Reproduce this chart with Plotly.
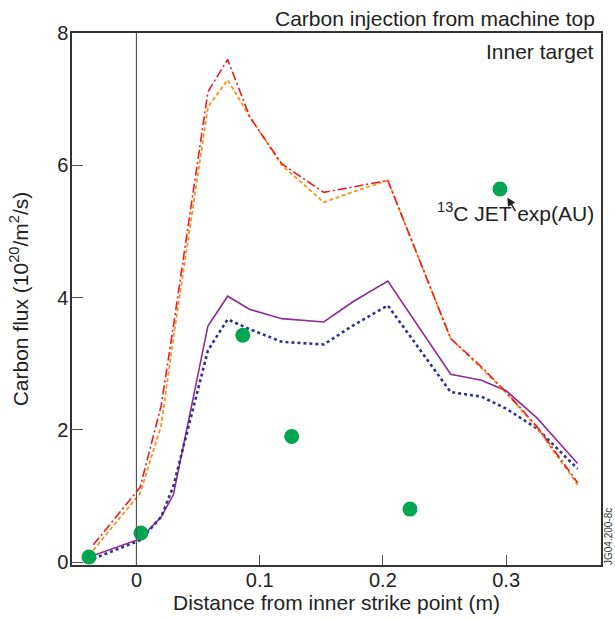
import plotly.graph_objects as go

# Simulation grid (distance from inner strike point, m)
x_sim = [-0.035, 0.003, 0.020, 0.030, 0.058, 0.074, 0.092, 0.118, 0.152, 0.176,
         0.204, 0.255, 0.280, 0.300, 0.325, 0.358]

# Carbon flux (1e20 /m2/s)
red_dashdot = [0.26, 1.13, 2.36, 3.57, 7.11, 7.60, 6.73, 6.02, 5.59, 5.67,
               5.77, 3.38, 2.95, 2.57, 2.05, 1.20]
orange_dash = [0.18, 1.04, 2.06, 3.39, 6.88, 7.29, 6.73, 6.00, 5.44, 5.60,
               5.77, 3.38, 2.93, 2.56, 2.03, 1.17]
purple_solid = [0.10, 0.35, 0.68, 1.02, 3.57, 4.02, 3.82, 3.68, 3.63, 3.94,
                4.25, 2.84, 2.75, 2.59, 2.18, 1.49]
blue_dot = [0.05, 0.33, 0.68, 1.15, 3.20, 3.67, 3.52, 3.33, 3.29, 3.58,
            3.88, 2.57, 2.50, 2.32, 2.02, 1.41]

# 13C JET experiment (AU)
x_exp = [-0.0385, 0.0036, 0.0863, 0.126, 0.222, 0.295]
y_exp = [0.075, 0.44, 3.43, 1.90, 0.80, 5.64]

x_ticks = [0, 0.1, 0.2, 0.3]
x_ticklabels = ["0", "0.1", "0.2", "0.3"]
y_ticks = [0, 2, 4, 6, 8]
y_ticklabels = ["0", "2", "4", "6", "8"]

FONT = "Liberation Sans, Arial, Helvetica, sans-serif"
TXT = "#222222"

fig = go.Figure()
fig.add_trace(go.Scatter(x=x_sim, y=purple_solid, mode="lines",
                         line=dict(color="#8E2B96", width=1.6), showlegend=False))
fig.add_trace(go.Scatter(x=x_sim, y=blue_dot, mode="lines",
                         line=dict(color="#2E3192", width=2.6, dash="dot"), showlegend=False))
fig.add_trace(go.Scatter(x=x_sim, y=orange_dash, mode="lines",
                         line=dict(color="#F7941D", width=1.8, dash="4px,2.5px"), showlegend=False))
fig.add_trace(go.Scatter(x=x_sim, y=red_dashdot, mode="lines",
                         line=dict(color="#ED1C24", width=1.6, dash="9px,3px,2px,3px"), showlegend=False))
fig.add_trace(go.Scatter(x=x_exp, y=y_exp, mode="markers",
                         marker=dict(color="#00A651", size=15, line=dict(width=0)),
                         showlegend=False, cliponaxis=False))

# vertical line at strike point
fig.add_shape(type="line", xref="x", yref="paper", x0=0, x1=0, y0=0, y1=1,
              line=dict(color="#555555", width=1.2))

fig.update_xaxes(range=[-0.0523, 0.377], tickvals=x_ticks, ticktext=x_ticklabels,
                 ticks="inside", ticklen=10, tickwidth=1.2, tickcolor="#555555",
                 showline=True, linecolor="#333333", linewidth=1.5, mirror=True,
                 showgrid=False, zeroline=False, automargin=False, ticklabelstandoff=-4,
                 tickfont=dict(family=FONT, size=20, color=TXT),
                 title=dict(text="Distance from inner strike point (m)",
                            font=dict(family=FONT, size=21, color=TXT), standoff=5))
fig.update_yaxes(range=[-0.045, 8.0], tickvals=y_ticks, ticktext=y_ticklabels,
                 ticks="inside", ticklen=11, tickwidth=1.2, tickcolor="#555555",
                 showline=True, linecolor="#333333", linewidth=1.5, mirror=True,
                 showgrid=False, zeroline=False, automargin=False, ticklabelstandoff=-2,
                 tickfont=dict(family=FONT, size=20, color=TXT),
                 title=dict(text="Carbon flux (10<sup>20</sup>/m<sup>2</sup>/s)",
                            font=dict(family=FONT, size=21, color=TXT), standoff=23))

fig.add_annotation(text="Carbon injection from machine top", xref="paper", yref="paper",
                   x=1, y=1, xanchor="right", yanchor="bottom", xshift=-4, yshift=1, showarrow=False,
                   font=dict(family=FONT, size=21, color=TXT))
fig.add_annotation(text="Inner target", xref="paper", yref="paper",
                   x=1, y=1, xanchor="right", yanchor="top", xshift=-5, yshift=-5, showarrow=False,
                   font=dict(family=FONT, size=21, color=TXT))
fig.add_annotation(text="<sup>13</sup>C JET exp(AU)", xref="x", yref="y",
                   x=0.373, y=5.3, xanchor="right", yanchor="middle", showarrow=False,
                   font=dict(family=FONT, size=21, color=TXT))
fig.add_annotation(text="", xref="x", yref="y", x=0.301, y=5.51, ax=9, ay=15,
                   showarrow=True, arrowhead=2, arrowsize=1.1, arrowwidth=1.5,
                   arrowcolor=TXT)
fig.add_annotation(text="JG04.200-8c", xref="paper", yref="paper", x=1, y=0,
                   xanchor="left", yanchor="bottom", xshift=0, yshift=-2, textangle=-90,
                   showarrow=False, font=dict(family=FONT, size=10, color="#333333"))

fig.update_layout(width=615, height=619, plot_bgcolor="white", paper_bgcolor="white",
                  margin=dict(l=72, r=14, t=33, b=54, autoexpand=False))

fig.write_html("out.html", config={"displayModeBar": False},
               post_script="document.body.style.margin='0';document.body.style.overflow='hidden';")
